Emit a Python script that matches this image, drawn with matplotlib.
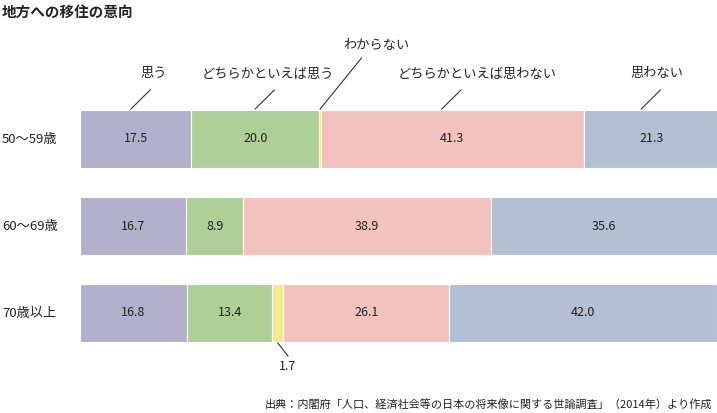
import matplotlib.pyplot as plt
import numpy as np

plt.rcParams['font.family'] = 'Noto Sans CJK JP'

# データ
groups = ['50〜59歳', '60〜69歳', '70歳以上']
answers = ['思う', 'どちらかといえば思う', 'わからない', 'どちらかといえば思わない', '思わない']
omou = [17.5, 16.7, 16.8]
yaya_omou = [20.0, 8.9, 13.4]
wakaranai = [0.3, 0.0, 1.7]
yaya_omowanai = [41.3, 38.9, 26.1]
omowanai = [21.3, 35.6, 42.0]
series = [omou, yaya_omou, wakaranai, yaya_omowanai, omowanai]
colors = ['#b3b0cc', '#aecf97', '#f5e98a', '#f2c3be', '#b3bfd2']

W, H = 717, 413
fig = plt.figure(figsize=(W / 100, H / 100), dpi=100)
ax = fig.add_axes([80 / W, 0, 637 / W, 1])
ax.set_xlim(0, 100)
ax.set_ylim(H, 0)
ax.axis('off')

centers = [139, 226, 313]
bh = 58
left = np.zeros(3)
for vals, c in zip(series, colors):
    ax.barh(centers, vals, left=left, height=bh, color=c, edgecolor='white', linewidth=0.8)
    for i, v in enumerate(vals):
        if v >= 5:
            ax.text(left[i] + v / 2, centers[i], f'{v:.1f}', ha='center', va='center', fontsize=9, color='#222222')
    left = left + np.array(vals)

for i, g in enumerate(groups):
    fig.text(2 / W, 1 - centers[i] / H, g, ha='left', va='center', fontsize=9.5, color='#222222')

# 凡例の引き出し線 (1行目のバー基準)
top = centers[0] - bh / 2
cum = np.cumsum([s[0] for s in series])
starts = cum - np.array([s[0] for s in series])
label_x = [11.5, 29.5, 46.5, 62.3, 90.5]
line_x = [starts[0] + 8, starts[1] + 10, cum[2] - 0.1, starts[3] + 19, starts[4] + 9]
for k, name in enumerate(answers):
    if k == 2:
        ax.plot([line_x[k], line_x[k] + 6.5], [top - 1, 58], color='#333333', lw=0.8)
        ax.text(label_x[k], 45, name, ha='center', va='center', fontsize=9.5, color='#222222')
    else:
        ax.plot([line_x[k], line_x[k] + 3], [top - 1, 90], color='#333333', lw=0.8)
        ax.text(label_x[k], 74, name, ha='center', va='center', fontsize=9.5, color='#222222')

# 70歳以上のわからない
x17 = omou[2] + yaya_omou[2] + wakaranai[2] / 2
ax.plot([x17, x17 + 1.6], [centers[2] + bh / 2 + 1, 356], color='#333333', lw=0.8)
ax.text(x17 + 1.6, 367, f'{wakaranai[2]:.1f}', ha='center', va='center', fontsize=9, color='#222222')

fig.text(2 / W, 1 - 12 / H, '地方への移住の意向', ha='left', va='center', fontsize=10.5, fontweight='bold', color='#222222')
fig.text(712 / W, 1 - 404 / H, '出典：内閣府「人口、経済社会等の日本の将来像に関する世論調査」（2014年）より作成',
         ha='right', va='center', fontsize=8, color='#222222')

fig.savefig('out.png', dpi=100)
